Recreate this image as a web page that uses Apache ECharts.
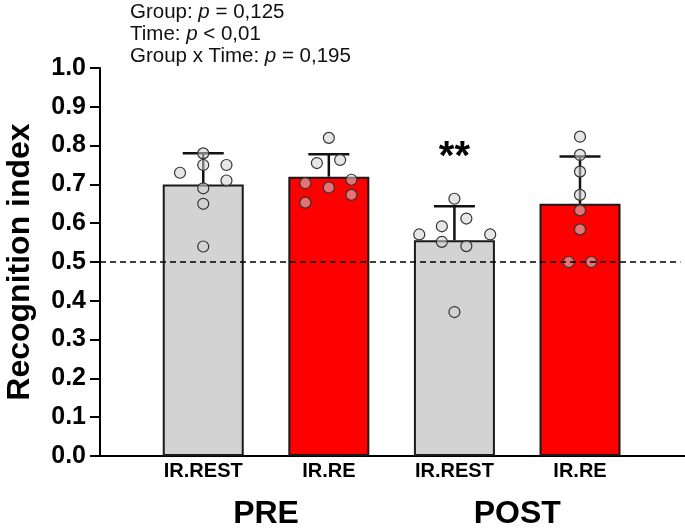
<!DOCTYPE html>
<html>
<head>
<meta charset="utf-8">
<script src="https://cdn.jsdelivr.net/npm/echarts@6/dist/echarts.min.js"></script>
<style>html,body{margin:0;padding:0;background:#fff}#c{width:685px;height:528px}</style>
</head>
<body>
<div id="c"></div>
<script>
// ---- data ----
var categories = ['IR.REST', 'IR.RE', 'IR.REST', 'IR.RE'];
var timeGroups = ['PRE', 'POST'];
var means = [0.70, 0.72, 0.556, 0.65];
var sds = [0.08, 0.058, 0.088, 0.122];
var sigMarks = ['', '', '**', ''];
var chanceLevel = 0.5;
var statLines = [
  ['Group: ', 'p', ' = 0,125'],
  ['Time: ', 'p', ' < 0,01'],
  ['Group x Time: ', 'p', ' = 0,195']
];
// individual animals: values per bar
var pts1 = [0.78, 0.75, 0.73, 0.75, 0.71, 0.69, 0.65, 0.54];
var pts2 = [0.82, 0.755, 0.763, 0.703, 0.692, 0.712, 0.653, 0.673];
var pts3 = [0.663, 0.592, 0.612, 0.571, 0.571, 0.552, 0.541, 0.371];
var pts4 = [0.823, 0.776, 0.733, 0.673, 0.633, 0.584, 0.50, 0.50];
// horizontal jitter of each point (in category units)
var jit1 = [0, 0, -0.185, 0.185, 0.185, 0, 0, 0];
var jit2 = [0, -0.095, 0.09, -0.187, 0, 0.18, -0.187, 0.18];
var jit3 = [0, -0.1, 0.095, -0.28, 0.285, -0.1, 0.095, 0];
var jit4 = [0, 0, 0, 0, 0, 0, -0.09, 0.09];

var barColors = ['#d3d3d3', '#ff0000', '#d3d3d3', '#ff0000'];

var allPts = [pts1, pts2, pts3, pts4];
var allJit = [jit1, jit2, jit3, jit4];
var scatterData = [];
allPts.forEach(function (arr, i) {
  arr.forEach(function (v, j) { scatterData.push([i + 1 + allJit[i][j], v]); });
});
var barData = means.map(function (m, i) {
  return { value: [i + 1, m], itemStyle: { color: barColors[i] } };
});
var errData = means.map(function (m, i) { return [i + 1, m, sds[i]]; });
var sigData = means.map(function (m, i) { return [i + 1, m + sds[i]]; });

var xMin = 0.178, xMax = 4.836;
var FONT = 'Liberation Sans, Arial, sans-serif';

var chart = echarts.init(document.getElementById('c'), null, { renderer: 'canvas' });
chart.setOption({
  animation: false,
  grid: { left: 100, right: 0, top: 68, bottom: 72, outerBoundsMode: 'none', containLabel: false },
  xAxis: [{
    type: 'value', min: xMin, max: xMax,
    axisLine: { show: true, onZero: false, lineStyle: { color: '#000', width: 2 } },
    axisTick: { show: false },
    splitLine: { show: false },
    axisLabel: {
      customValues: [1, 2, 3, 4],
      formatter: function (v) { return categories[Math.round(v) - 1]; },
      color: '#000', fontFamily: FONT, fontWeight: 'bold', fontSize: 20, margin: 5
    }
  }, {
    type: 'value', min: xMin, max: xMax, position: 'bottom',
    axisLine: { show: false }, axisTick: { show: false }, splitLine: { show: false },
    axisLabel: {
      customValues: [1.5, 3.5],
      formatter: function (v) { return timeGroups[Math.round((v - 1.5) / 2)]; },
      color: '#000', fontFamily: FONT, fontWeight: 'bold', fontSize: 32, margin: 42
    }
  }],
  yAxis: {
    type: 'value', min: 0, max: 1, interval: 0.1,
    name: 'Recognition index', nameLocation: 'middle', nameGap: 64,
    nameTextStyle: { color: '#000', fontFamily: FONT, fontWeight: 'bold', fontSize: 32 },
    axisLine: { show: true, lineStyle: { color: '#000', width: 2 } },
    axisTick: { show: true, length: 10, lineStyle: { color: '#000', width: 2 } },
    splitLine: { show: false },
    axisLabel: {
      formatter: function (v) { return v.toFixed(1); },
      color: '#000', fontFamily: FONT, fontWeight: 'bold', fontSize: 25, margin: 14
    }
  },
  graphic: [{
    type: 'text', left: 130, top: 1,
    style: {
      text: statLines.map(function (l) { return l[0] + '{i|' + l[1] + '}' + l[2]; }).join('\n'),
      fontFamily: FONT, fontSize: 20.5, lineHeight: 22, fill: '#111',
      rich: { i: { fontStyle: 'italic', fontFamily: FONT, fontSize: 20.5, lineHeight: 22 } }
    }
  }],
  series: [{
    type: 'bar', xAxisIndex: 0, data: barData, barWidth: 81,
    itemStyle: { borderColor: '#1a1a1a', borderWidth: 2 },
    markLine: {
      silent: true, symbol: 'none', label: { show: false },
      lineStyle: { color: '#000', type: [6, 4], width: 1.6 },
      data: [[{ coord: [xMin, chanceLevel] }, { coord: [4.80, chanceLevel] }]]
    },
    z: 2
  }, {
    type: 'custom', xAxisIndex: 0, data: errData, z: 3,
    renderItem: function (params, api) {
      var x = api.value(0), m = api.value(1), s = api.value(2);
      var p0 = api.coord([x, m]);
      var p1 = api.coord([x, m + s]);
      var hw = 20.5;
      return {
        type: 'group', children: [
          { type: 'line', shape: { x1: p0[0], y1: p0[1], x2: p1[0], y2: p1[1] }, style: { stroke: '#111', lineWidth: 2.5 } },
          { type: 'line', shape: { x1: p1[0] - hw, y1: p1[1], x2: p1[0] + hw, y2: p1[1] }, style: { stroke: '#111', lineWidth: 2.5 } }
        ]
      };
    }
  }, {
    type: 'scatter', xAxisIndex: 0, data: scatterData, symbol: 'circle', symbolSize: 11, z: 4,
    itemStyle: { color: 'rgba(210,210,210,0.55)', borderColor: '#333', borderWidth: 1.2, opacity: 1 }
  }, {
    type: 'custom', xAxisIndex: 0, data: sigData, z: 5,
    renderItem: function (params, api) {
      var p = api.coord([api.value(0), api.value(1)]);
      var t = sigMarks[params.dataIndex];
      if (!t) return null;
      return {
        type: 'text', x: p[0], y: p[1] - 28,
        style: { text: t, fontFamily: FONT, fontWeight: 'bold', fontSize: 40, fill: '#000', align: 'center', verticalAlign: 'bottom' }
      };
    }
  }]
});
</script>
</body>
</html>
